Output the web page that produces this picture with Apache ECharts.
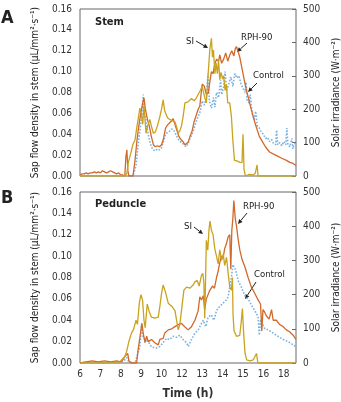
<!DOCTYPE html>
<html>
<head>
    <meta charset="UTF-8">
    <title>Sap flow</title>
    <script src="https://cdn.jsdelivr.net/npm/echarts@6/dist/echarts.min.js"></script>
    <style>
        html, body { margin: 0; padding: 0; background: #fff; }
        #chart { width: 341px; height: 402px; }
    </style>
</head>
<body>
    <div id="chart"></div>

    <script>
        // tick labels of the time axis, as printed in the figure (one per hour tick)
        var timeLabels = ['6', '7', '8', '9', '10', '12', '13', '14', '15', '16', '18'];

        // ---- A: stem ----
        // solar irradiance (W/m2), right axis
        var siA_t = [6.0, 8.2, 8.3, 8.37, 8.5, 8.6, 8.7, 8.8, 8.94, 9.0, 9.08, 9.14, 9.2, 9.24, 9.32, 9.43, 9.5, 9.6, 9.7, 9.8,
            9.92, 10.0, 10.08, 10.15, 10.25, 10.33, 10.45, 10.55, 10.66, 10.74, 10.82, 10.9, 10.98, 11.06, 11.15, 11.3, 11.47,
            11.6, 11.72, 11.8, 11.9, 12.0, 12.1, 12.2, 12.29, 12.37, 12.45, 12.5, 12.55, 12.62, 12.68, 12.74, 12.8, 12.86,
            12.92, 13.0, 13.05, 13.12, 13.18, 13.25, 13.35, 13.43, 13.5, 13.58, 13.7, 13.85, 13.95, 14.0, 14.05, 14.12,
            14.3, 14.5, 14.6, 14.69, 14.74, 16.6];
        var siA = [0, 0, 8, 40, 70, 95, 108, 150, 203, 190, 155, 212, 160, 128, 150, 169, 150, 128, 132, 150,
            178, 200, 228, 197, 180, 172, 168, 165, 162, 147, 128, 135, 150, 178, 219, 222, 232,
            225, 235, 238, 256, 268, 240, 219, 306, 378, 412, 356, 377, 306, 338, 306, 347, 288,
            310, 290, 300, 256, 275, 219, 219, 178, 108, 47, 45, 41, 40, 125, 19, 0,
            5, 3, 8, 33, 0, 0];

        // RPH-90 sap flow (uL/mm2/s)
        var rphA_t = [6.0, 6.1, 6.2, 6.3, 6.4, 6.5, 6.6, 6.7, 6.8, 6.9, 7.0, 7.1, 7.2, 7.3, 7.4, 7.5, 7.6, 7.7, 7.8, 7.9,
            8.0, 8.1, 8.2, 8.25, 8.3, 8.35, 8.4, 8.6, 8.7, 8.8, 8.9, 9.0, 9.1, 9.14, 9.2, 9.3, 9.4, 9.5, 9.6, 9.7, 9.8, 9.9,
            10.0, 10.1, 10.2, 10.3, 10.4, 10.5, 10.57, 10.65, 10.75, 10.85, 10.95, 11.05, 11.15, 11.23, 11.3, 11.4, 11.5,
            11.6, 11.7, 11.8, 11.88, 11.95, 12.0, 12.1, 12.2, 12.3, 12.37, 12.45, 12.53, 12.6, 12.7, 12.8, 12.86, 12.95,
            13.05, 13.15, 13.25, 13.35, 13.45, 13.55, 13.62, 13.68, 13.76, 13.84, 13.92, 14.0, 14.08, 14.17, 14.3, 14.4,
            14.5, 14.6, 14.7, 14.8, 14.95, 15.1, 15.3, 15.5, 15.7, 15.9, 16.13, 16.3, 16.45, 16.6];
        var rphA = [0.001, 0.002, 0.002, 0.003, 0.002, 0.003, 0.003, 0.004, 0.003, 0.004, 0.003, 0.005, 0.004, 0.003, 0.004, 0.005, 0.004, 0.003, 0.002, 0.003,
            0.001, 0.001, 0.000, 0.018, 0.025, 0.005, 0.000, 0.000, 0.015, 0.035, 0.050, 0.062, 0.072, 0.075, 0.065, 0.055, 0.048, 0.038, 0.030, 0.028, 0.029, 0.028,
            0.030, 0.036, 0.046, 0.049, 0.051, 0.053, 0.055, 0.050, 0.044, 0.038, 0.035, 0.033, 0.030, 0.029, 0.032, 0.038, 0.043,
            0.052, 0.058, 0.064, 0.067, 0.080, 0.088, 0.086, 0.078, 0.080, 0.090, 0.100, 0.098, 0.106, 0.112, 0.110, 0.116, 0.108,
            0.112, 0.118, 0.110, 0.116, 0.120, 0.115, 0.122, 0.124, 0.119, 0.114, 0.106, 0.098, 0.090, 0.082, 0.072, 0.064,
            0.057, 0.050, 0.044, 0.038, 0.033, 0.028, 0.023, 0.021, 0.019, 0.017, 0.015, 0.013, 0.012, 0.010];

        // control sap flow
        var ctlA_t = [6.0, 8.6, 8.75, 8.85, 8.95, 9.05, 9.1, 9.15, 9.22, 9.3, 9.4, 9.5, 9.6, 9.7, 9.8, 9.9, 10.0, 10.1, 10.2,
            10.3, 10.4, 10.5, 10.6, 10.7, 10.8, 10.9, 11.0, 11.1, 11.2, 11.3, 11.4, 11.5, 11.6, 11.7, 11.8, 11.9, 12.0, 12.1,
            12.2, 12.28, 12.35, 12.45, 12.55, 12.62, 12.7, 12.8, 12.9, 12.95, 13.05, 13.12, 13.2, 13.3, 13.4, 13.5, 13.6, 13.7,
            13.8, 13.9, 14.0, 14.1, 14.15, 14.2, 14.3, 14.35, 14.45, 14.55, 14.62, 14.7, 14.8, 14.9, 15.0, 15.1, 15.2, 15.3,
            15.4, 15.5, 15.6, 15.65, 15.7, 15.8, 15.9, 16.0, 16.1, 16.15, 16.2, 16.3, 16.4, 16.45, 16.5, 16.6];
        var ctlA = [0, 0, 0.010, 0.030, 0.045, 0.060, 0.078, 0.060, 0.055, 0.045, 0.035, 0.028, 0.025, 0.024, 0.026, 0.025, 0.027, 0.033, 0.040,
            0.042, 0.043, 0.045, 0.044, 0.040, 0.036, 0.033, 0.032, 0.030, 0.028, 0.031, 0.036, 0.040, 0.046, 0.052, 0.057, 0.062, 0.072, 0.068,
            0.074, 0.098, 0.072, 0.065, 0.075, 0.066, 0.080, 0.075, 0.092, 0.078, 0.085, 0.100, 0.082, 0.088, 0.095, 0.086, 0.098, 0.094,
            0.096, 0.088, 0.084, 0.080, 0.090, 0.072, 0.070, 0.078, 0.060, 0.054, 0.062, 0.048, 0.046, 0.042, 0.040, 0.036, 0.037, 0.033,
            0.035, 0.031, 0.030, 0.044, 0.030, 0.032, 0.029, 0.033, 0.030, 0.046, 0.030, 0.028, 0.036, 0.026, 0.030, 0.032];

        // ---- B: peduncle ----
        var siB_t = [6.0, 7.9, 8.04, 8.2, 8.29, 8.4, 8.53, 8.62, 8.75, 8.82, 8.91, 8.99, 9.07, 9.14, 9.2, 9.3, 9.4, 9.51, 9.67,
            9.84, 9.92, 10.0, 10.08, 10.2, 10.33, 10.5, 10.66, 10.74, 10.82, 10.9, 10.98, 11.1, 11.23, 11.4, 11.55, 11.65,
            11.75, 11.85, 11.96, 12.03, 12.08, 12.12, 12.16, 12.2, 12.27, 12.33, 12.38, 12.45, 12.53, 12.62, 12.7, 12.78, 12.86,
            12.95, 13.03, 13.1, 13.19, 13.27, 13.35, 13.43, 13.48, 13.51, 13.56, 13.68, 13.76, 13.84, 13.92, 13.97, 14.03,
            14.1, 14.18, 14.35, 14.5, 14.66, 14.73, 16.6];
        var siB = [0, 0, 9, 19, 34, 63, 88, 97, 125, 113, 175, 200, 184, 125, 103, 172, 150, 134, 131,
            134, 166, 203, 228, 206, 175, 166, 153, 125, 97, 113, 153, 213, 222, 219, 228, 238,
            241, 225, 256, 262, 234, 131, 234, 359, 330, 390, 415, 388, 375, 332, 312, 290, 331,
            300, 318, 285, 309, 263, 222, 213, 250, 141, 94, 78, 78, 81, 125, 159, 88,
            28, 9, 6, 9, 28, 0, 0];

        var rphB_t = [6.0, 6.3, 6.6, 6.9, 7.2, 7.5, 7.8, 8.0, 8.1, 8.2, 8.34, 8.4, 8.5, 8.78, 8.85, 8.97, 9.04, 9.1, 9.19,
            9.27, 9.35, 9.51, 9.67, 9.84, 9.92, 10.08, 10.16, 10.33, 10.5, 10.66, 10.82, 10.98, 11.14, 11.31, 11.47, 11.64,
            11.8, 11.88, 11.96, 12.05, 12.12, 12.2, 12.37, 12.5, 12.6, 12.7, 12.78, 12.86, 12.94, 13.02, 13.1, 13.19, 13.27,
            13.35, 13.4, 13.45, 13.5, 13.55, 13.62, 13.68, 13.76, 13.84, 13.95, 14.09, 14.25, 14.41, 14.58, 14.74,
            14.86, 14.92, 14.98, 15.05, 15.15, 15.28, 15.4, 15.48, 15.64, 15.8, 15.97, 16.13, 16.3, 16.46, 16.6];
        var rphB = [0.000, 0.001, 0.002, 0.001, 0.002, 0.001, 0.002, 0.001, 0.003, 0.006, 0.009, 0.002, 0.000, 0.000, 0.012, 0.028, 0.037, 0.028, 0.019,
            0.025, 0.020, 0.022, 0.019, 0.017, 0.022, 0.023, 0.028, 0.031, 0.032, 0.034, 0.036, 0.037, 0.034, 0.031, 0.034, 0.040,
            0.049, 0.062, 0.059, 0.063, 0.050, 0.060, 0.068, 0.072, 0.070, 0.080, 0.086, 0.094, 0.100, 0.098, 0.107, 0.112, 0.118,
            0.120, 0.088, 0.124, 0.135, 0.152, 0.135, 0.128, 0.116, 0.106, 0.097, 0.090, 0.080, 0.071, 0.065, 0.059,
            0.055, 0.030, 0.050, 0.048, 0.044, 0.041, 0.050, 0.040, 0.040, 0.036, 0.034, 0.031, 0.029, 0.026, 0.022];

        var ctlB_t = [6.0, 6.4, 6.8, 7.2, 7.6, 8.0, 8.15, 8.3, 8.4, 8.7, 8.85, 8.94, 9.02, 9.1, 9.19, 9.35, 9.51, 9.75, 9.92,
            10.08, 10.25, 10.41, 10.57, 10.74, 10.9, 11.06, 11.23, 11.31, 11.47, 11.64, 11.8, 11.96, 12.05, 12.17, 12.29,
            12.45, 12.57, 12.7, 12.86, 13.02, 13.19, 13.27, 13.35, 13.43, 13.5, 13.64, 13.76, 13.92, 14.09, 14.25, 14.42,
            14.58, 14.74, 14.8, 14.86, 15.07, 15.23, 15.48, 15.72, 15.97, 16.21, 16.46, 16.6];
        var ctlB = [0.000, 0.001, 0.001, 0.000, 0.001, 0.001, 0.002, 0.005, 0.001, 0.000, 0.010, 0.015, 0.037, 0.024, 0.022, 0.020, 0.015, 0.014, 0.0155,
            0.019, 0.023, 0.022, 0.025, 0.024, 0.026, 0.022, 0.019, 0.0155, 0.022, 0.028, 0.031, 0.037, 0.040, 0.034, 0.043,
            0.045, 0.040, 0.049, 0.053, 0.056, 0.059, 0.062, 0.071, 0.080, 0.092, 0.087, 0.077, 0.071, 0.063, 0.060, 0.054,
            0.049, 0.043, 0.026, 0.040, 0.032, 0.031, 0.028, 0.025, 0.022, 0.020, 0.017, 0.015];

        function pairs(t, v) {
            return t.map(function (x, i) { return [x, v[i]]; });
        }

        var GOLD = '#c9a31d', ORANGE = '#d2682a', BLUE = '#7ab2e0';
        var font = "'Liberation Sans Narrow', 'DejaVu Sans Condensed', 'Noto Sans'";

        function xAxis(grid, showLabels) {
            return {
                type: 'value', gridIndex: grid, min: 6, max: 16.6, interval: 1,
                axisLine: { show: false }, axisTick: { show: false }, splitLine: { show: false },
                axisLabel: {
                    show: showLabels, margin: 6, fontSize: 10, color: '#333', fontFamily: font,
                    showMaxLabel: false,
                    formatter: function (v) { return Number.isInteger(v) ? timeLabels[v - 6] : ''; }
                },
                name: showLabels ? 'Time (h)' : '', nameLocation: 'middle', nameGap: 25,
                nameTextStyle: { fontSize: 12, fontWeight: 'bold', color: '#333', fontFamily: font }
            };
        }
        function leftAxis(grid) {
            return {
                type: 'value', gridIndex: grid, min: 0, max: 0.16, interval: 0.02, position: 'left',
                axisLine: { show: false }, axisTick: { show: false }, splitLine: { show: false },
                axisLabel: { margin: 8, fontSize: 10, color: '#333', fontFamily: font,
                    formatter: function (v) { return v.toFixed(2); } },
                name: 'Sap flow density in stem (\u03bcL/mm\u00b2\u00b7s\u207b\u00b9)',
                nameLocation: 'middle', nameGap: 40,
                nameTextStyle: { fontSize: 10, color: '#222', fontFamily: font }
            };
        }
        function rightAxis(grid) {
            return {
                type: 'value', gridIndex: grid, min: 0, max: 500, interval: 100, position: 'right',
                axisLine: { show: false }, splitLine: { show: false },
                axisTick: { show: true, inside: true, length: 4, lineStyle: { color: '#666' } },
                axisLabel: { margin: 7, fontSize: 10, color: '#333', fontFamily: font },
                name: 'Solar irradiance (W\u00b7m\u207b\u00b2)',
                nameLocation: 'middle', nameGap: 29,
                nameTextStyle: { fontSize: 10, color: '#222', fontFamily: font }
            };
        }
        function line(name, data, xi, yi, color, dotted, z) {
            return {
                name: name, type: 'line', xAxisIndex: xi, yAxisIndex: yi, data: data,
                showSymbol: false, animation: false, z: z,
                lineStyle: { color: color, width: dotted ? 1.6 : 1.3, type: dotted ? 'dotted' : 'solid' }
            };
        }
        function label(text, x, y, size, bold) {
            return { type: 'text', left: x, top: y, style: { text: text, fontSize: size,
                fontWeight: bold ? 'bold' : 'normal', fill: '#222', fontFamily: font } };
        }
        function arrow(x1, y1, x2, y2) {
            var a = Math.atan2(y2 - y1, x2 - x1), L = 4.5, W = 2.2;
            var bx = x2 - L * Math.cos(a), by = y2 - L * Math.sin(a);
            return [
                { type: 'line', shape: { x1: x1, y1: y1, x2: bx, y2: by }, style: { stroke: '#222', lineWidth: 1 } },
                { type: 'polygon', shape: { points: [[x2, y2],
                    [bx + W * Math.sin(a), by - W * Math.cos(a)],
                    [bx - W * Math.sin(a), by + W * Math.cos(a)]] }, style: { fill: '#222' } }
            ];
        }

        var chart = echarts.init(document.getElementById('chart'), null, { renderer: 'canvas' });

        var graphics = [
            label('A', 1, 9, 18, true), label('B', 1, 189, 18, true),
            label('Stem', 95, 17, 11, true), label('Peduncle', 95, 199, 11, true),
            label('SI', 186, 37, 9.5), label('RPH-90', 241, 33, 9.5), label('Control', 253, 71, 9.5),
            label('SI', 184, 222, 9.5), label('RPH-90', 243, 202, 9.5), label('Control', 254, 270, 9.5)
        ].concat(arrow(196, 41, 208, 48), arrow(247, 43, 237, 52), arrow(257, 83, 248, 92),
                 arrow(194, 227, 203, 234), arrow(247, 213, 238, 224), arrow(256, 282, 245, 299));

        chart.setOption({
            backgroundColor: '#fff',
            animation: false,
            grid: [
                { left: 80, top: 9, width: 216, height: 167, show: true, borderColor: '#666', borderWidth: 1,
                  containLabel: false, outerBoundsMode: 'none' },
                { left: 80, top: 192, width: 216, height: 171, show: true, borderColor: '#666', borderWidth: 1,
                  containLabel: false, outerBoundsMode: 'none' }
            ],
            xAxis: [xAxis(0, false), xAxis(1, true)],
            yAxis: [leftAxis(0), rightAxis(0), leftAxis(1), rightAxis(1)],
            series: [
                line('Control', pairs(ctlA_t, ctlA), 0, 0, BLUE, true, 2),
                line('RPH-90', pairs(rphA_t, rphA), 0, 0, ORANGE, false, 3),
                line('SI', pairs(siA_t, siA), 0, 1, GOLD, false, 4),
                line('Control', pairs(ctlB_t, ctlB), 1, 2, BLUE, true, 2),
                line('RPH-90', pairs(rphB_t, rphB), 1, 2, ORANGE, false, 3),
                line('SI', pairs(siB_t, siB), 1, 3, GOLD, false, 4)
            ],
            graphic: graphics
        });
    </script>
</body>
</html>
